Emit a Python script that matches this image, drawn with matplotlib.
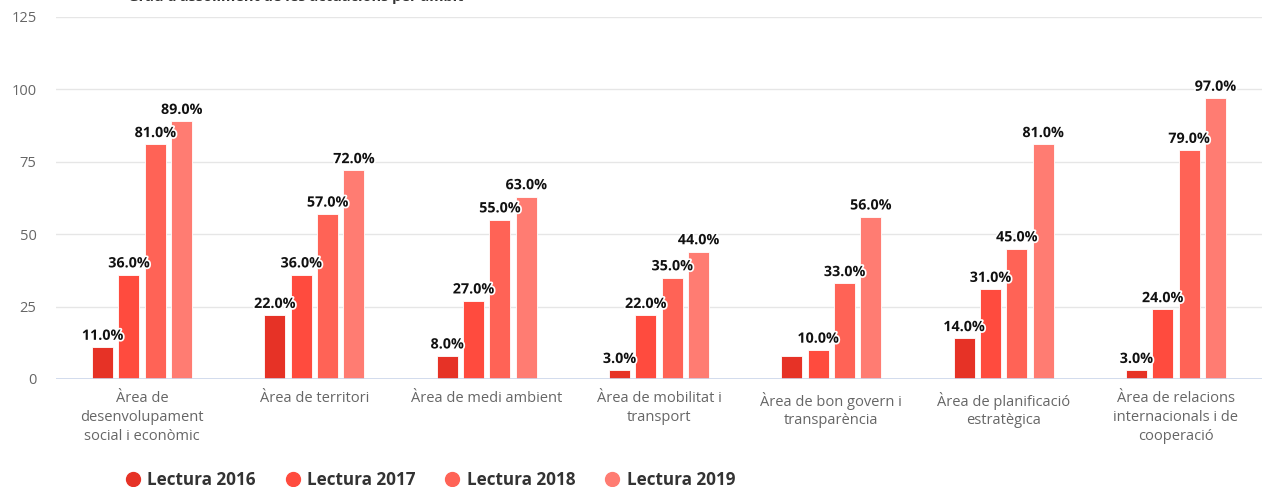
import matplotlib.pyplot as plt
import matplotlib.patheffects as pe
from matplotlib.lines import Line2D
import numpy as np

plt.rcParams['font.family'] = ['Open Sans', 'DejaVu Sans']

# dades
ambits = ["Àrea de\ndesenvolupament\nsocial i econòmic", "Àrea de territori",
          "Àrea de medi ambient", "Àrea de mobilitat i\ntransport",
          "Àrea de bon govern i\ntransparència", "Àrea de planificació\nestratègica",
          "Àrea de relacions\ninternacionals i de\ncooperació"]
lectura2016 = [11, 22, 8, 3, 8, 14, 3]
lectura2017 = [36, 36, 27, 22, 10, 31, 24]
lectura2018 = [81, 57, 55, 35, 33, 45, 79]
lectura2019 = [89, 72, 63, 44, 56, 81, 97]
series = ["Lectura 2016", "Lectura 2017", "Lectura 2018", "Lectura 2019"]
colors = ["#E63226", "#FF4B3E", "#FF6356", "#FF7C72"]
# etiquetes amagades per solapament (serie, categoria)
amagades = [(0, 4)]
yticks = [0, 25, 50, 75, 100, 125]

fig = plt.figure(figsize=(12.62, 4.87), dpi=100)
ax = fig.add_axes([56/1262, 1-379/487, 1-56/1262, (379-17)/487])

x = np.arange(len(ambits))
pitch = 0.153
width = 0.122
dades = [lectura2016, lectura2017, lectura2018, lectura2019]
for i, vals in enumerate(dades):
    pos = x + (i - 1.5)*pitch
    ax.bar(pos, vals, width, color=colors[i], edgecolor='white', linewidth=0.6, zorder=3)
    for j, v in enumerate(vals):
        if (i, j) in amagades:
            continue
        ax.text(pos[j], v + 1.5, f"{v:.1f}%", ha='center', va='bottom', fontsize=10.3,
                fontweight='bold', color='#111111', zorder=5,
                path_effects=[pe.withStroke(linewidth=2.5, foreground='white')])

ax.set_xlim(-0.5, len(ambits) - 0.5)
ax.set_ylim(0, 125)
ax.set_yticks(yticks)
ax.grid(axis='y', color='#e6e6e6', linewidth=1, zorder=0)
ax.axhline(0, color='#ccd6eb', linewidth=1.2, zorder=4)
for s in ax.spines.values():
    s.set_visible(False)
ax.tick_params(axis='both', length=0, labelsize=10.5, labelcolor='#666666')
ax.tick_params(axis='y', pad=14)
ax.set_xticks(x)
ax.set_xticklabels(ambits, fontsize=10.5, color='#666666', linespacing=1.32)
ax.tick_params(axis='x', pad=9)

fig.text(128/1262, 1 + 3/487, "Grau d'assoliment de les actuacions per àmbit", ha='left',
         va='center', fontsize=10.5, fontweight='bold', color='#333333')
fig.text(14/1262, 1 + 3/487, "−", ha='left', va='center', fontsize=10.5, color='#333333')

handles = [Line2D([], [], marker='o', linestyle='none', markersize=10, color=c) for c in colors]
leg = fig.legend(handles, series, loc='center left', bbox_to_anchor=(109/1262, 1-480/487), ncol=4,
                 frameon=False, handletextpad=0.35, columnspacing=1.65, handlelength=1,
                 prop={'size': 12.3, 'weight': 'bold'})
for t in leg.get_texts():
    t.set_color('#333333')

fig.savefig("out.png", dpi=100)
